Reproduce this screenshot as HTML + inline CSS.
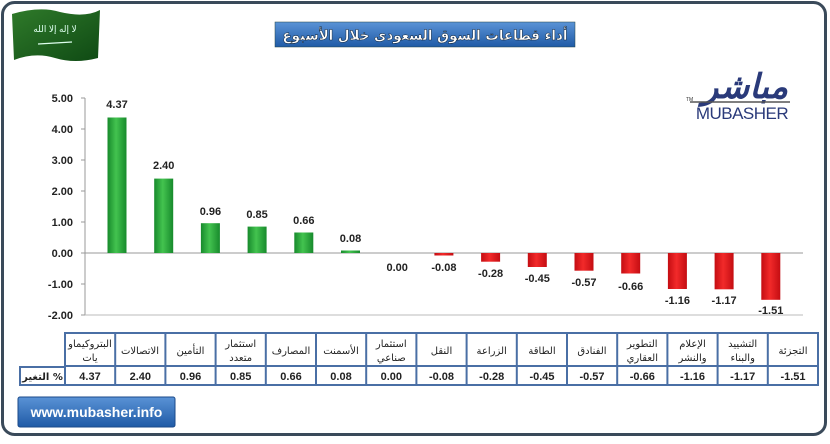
<!DOCTYPE html>
<html><head><meta charset="utf-8"><style>
body{margin:0;width:830px;height:439px;background:#fff;overflow:hidden;font-family:"Liberation Sans","Noto Sans CJK SC",sans-serif}
</style></head><body>
<svg width="830" height="439" xmlns="http://www.w3.org/2000/svg" font-family="Liberation Sans, DejaVu Sans, sans-serif">
<defs>
<linearGradient id="g" x1="0" x2="1"><stop offset="0" stop-color="#178a2c"/><stop offset=".45" stop-color="#43c34f"/><stop offset="1" stop-color="#178a2c"/></linearGradient>
<linearGradient id="r" x1="0" x2="1"><stop offset="0" stop-color="#c40d12"/><stop offset=".45" stop-color="#f22a2a"/><stop offset="1" stop-color="#c40d12"/></linearGradient>
<linearGradient id="b" x1="0" y1="0" x2="0" y2="1"><stop offset="0" stop-color="#5a93d6"/><stop offset="1" stop-color="#1f5aa6"/></linearGradient>
<linearGradient id="f" x1="0" y1="0" x2="1" y2="1"><stop offset="0" stop-color="#2f7a2a"/><stop offset="1" stop-color="#0f4a14"/></linearGradient>
</defs>
<rect x="2.5" y="2.5" width="823" height="432" rx="12" fill="#fff" stroke="#3a4a5a" stroke-width="3"/>
<path d="M12 14 Q40 6 60 12 Q85 18 100 10 L98 58 Q75 64 55 58 Q35 52 14 60 Z" fill="url(#f)"/>
<text x="55" y="32" font-size="9" fill="#dfe" text-anchor="middle">لا إله إلا الله</text>
<line x1="38" y1="44" x2="72" y2="42" stroke="#dfe" stroke-width="1.2"/>
<rect x="275" y="22" width="300" height="25" fill="url(#b)" stroke="#244" stroke-width=".5"/>
<text x="425" y="40" font-size="14" font-weight="bold" fill="#fff" stroke="#123" stroke-width=".5" text-anchor="middle" textLength="285" lengthAdjust="spacingAndGlyphs" font-family="DejaVu Sans, sans-serif">أداء قطاعات السوق السعودى خلال الأسبوع</text>
<text x="745" y="98" font-size="34" font-weight="bold" fill="#2a3a7a" text-anchor="middle" font-style="italic" font-family="DejaVu Sans, sans-serif">مباشر</text>
<line x1="690" y1="102" x2="790" y2="102" stroke="#555" stroke-width="1.5"/>
<text x="742" y="119" font-size="17" fill="#2a3a7a" text-anchor="middle" letter-spacing="-.5">MUBASHER</text>
<text x="686" y="101" font-size="5" fill="#333">TM</text>
<g font-size="11" font-weight="bold" fill="#222" text-anchor="end">
<text x="73" y="102">5.00</text><text x="73" y="133">4.00</text><text x="73" y="164">3.00</text><text x="73" y="195">2.00</text><text x="73" y="226">1.00</text><text x="73" y="257">0.00</text><text x="73" y="288">-1.00</text><text x="73" y="319">-2.00</text>
</g>
<g stroke="#999" stroke-width="1">
<line x1="85" y1="98" x2="85" y2="315"/>
<line x1="81" y1="98" x2="85" y2="98"/><line x1="81" y1="129" x2="85" y2="129"/><line x1="81" y1="160" x2="85" y2="160"/><line x1="81" y1="191" x2="85" y2="191"/><line x1="81" y1="222" x2="85" y2="222"/><line x1="81" y1="253" x2="85" y2="253"/><line x1="81" y1="284" x2="85" y2="284"/><line x1="81" y1="315" x2="85" y2="315"/>
<line x1="85" y1="253" x2="803" y2="253"/>
<line x1="85" y1="315" x2="803" y2="315" stroke="#bbb"/>
</g>
<g font-size="11" font-weight="bold" fill="#222" text-anchor="middle">
<rect x="107.5" y="117.5" width="19" height="135.5" fill="url(#g)"/><text x="117" y="108">4.37</text>
<rect x="154.2" y="178.6" width="19" height="74.4" fill="url(#g)"/><text x="163.7" y="169">2.40</text>
<rect x="200.9" y="223.2" width="19" height="29.8" fill="url(#g)"/><text x="210.4" y="215">0.96</text>
<rect x="247.6" y="226.6" width="19" height="26.4" fill="url(#g)"/><text x="257.1" y="218">0.85</text>
<rect x="294.3" y="232.5" width="19" height="20.5" fill="url(#g)"/><text x="303.8" y="224">0.66</text>
<rect x="341" y="250.5" width="19" height="2.5" fill="url(#g)"/><text x="350.5" y="242">0.08</text>
<text x="397.2" y="271">0.00</text>
<rect x="434.4" y="253" width="19" height="2.5" fill="url(#r)"/><text x="443.9" y="271">-0.08</text>
<rect x="481.1" y="253" width="19" height="8.7" fill="url(#r)"/><text x="490.6" y="277">-0.28</text>
<rect x="527.8" y="253" width="19" height="14" fill="url(#r)"/><text x="537.3" y="282">-0.45</text>
<rect x="574.5" y="253" width="19" height="17.7" fill="url(#r)"/><text x="584" y="286">-0.57</text>
<rect x="621.2" y="253" width="19" height="20.5" fill="url(#r)"/><text x="630.7" y="290">-0.66</text>
<rect x="667.9" y="253" width="19" height="36" fill="url(#r)"/><text x="677.4" y="304">-1.16</text>
<rect x="714.6" y="253" width="19" height="36.3" fill="url(#r)"/><text x="724.1" y="304">-1.17</text>
<rect x="761.3" y="253" width="19" height="46.8" fill="url(#r)"/><text x="770.8" y="314">-1.51</text>
</g>
<g stroke="#4a6fa5" stroke-width="2" fill="none">
<rect x="65" y="333" width="753" height="52"/>
<rect x="20" y="367" width="45" height="18"/>
<line x1="65" y1="366" x2="818" y2="366"/>
<line x1="115.2" y1="333" x2="115.2" y2="385"/><line x1="165.4" y1="333" x2="165.4" y2="385"/><line x1="215.6" y1="333" x2="215.6" y2="385"/><line x1="265.8" y1="333" x2="265.8" y2="385"/><line x1="316" y1="333" x2="316" y2="385"/><line x1="366.2" y1="333" x2="366.2" y2="385"/><line x1="416.4" y1="333" x2="416.4" y2="385"/><line x1="466.6" y1="333" x2="466.6" y2="385"/><line x1="516.8" y1="333" x2="516.8" y2="385"/><line x1="567" y1="333" x2="567" y2="385"/><line x1="617.2" y1="333" x2="617.2" y2="385"/><line x1="667.4" y1="333" x2="667.4" y2="385"/><line x1="717.6" y1="333" x2="717.6" y2="385"/><line x1="767.8" y1="333" x2="767.8" y2="385"/>
</g>
<g font-size="10" fill="#222" text-anchor="middle" font-family="DejaVu Sans, sans-serif">
<text x="90" y="347">البتروكيماو</text><text x="90" y="361">يات</text>
<text x="140" y="354">الاتصالات</text>
<text x="190.5" y="354">التأمين</text>
<text x="240.7" y="347">استثمار</text><text x="240.7" y="361">متعدد</text>
<text x="291" y="354">المصارف</text>
<text x="341" y="354">الأسمنت</text>
<text x="391.3" y="347">استثمار</text><text x="391.3" y="361">صناعي</text>
<text x="441.5" y="354">النقل</text>
<text x="491.7" y="354">الزراعة</text>
<text x="542" y="354">الطاقة</text>
<text x="592" y="354">الفنادق</text>
<text x="642.3" y="347">التطوير</text><text x="642.3" y="361">العقاري</text>
<text x="692.5" y="347">الإعلام</text><text x="692.5" y="361">والنشر</text>
<text x="742.7" y="347">التشييد</text><text x="742.7" y="361">والبناء</text>
<text x="793" y="354">التجزئة</text>
<text x="42.5" y="380" font-weight="bold">التغير %</text>
</g>
<g font-size="11" font-weight="bold" fill="#222" text-anchor="middle">
<text x="90" y="380">4.37</text><text x="140.3" y="380">2.40</text><text x="190.5" y="380">0.96</text><text x="240.7" y="380">0.85</text><text x="291" y="380">0.66</text><text x="341" y="380">0.08</text><text x="391.3" y="380">0.00</text><text x="441.5" y="380">-0.08</text><text x="491.7" y="380">-0.28</text><text x="542" y="380">-0.45</text><text x="592" y="380">-0.57</text><text x="642.3" y="380">-0.66</text><text x="692.5" y="380">-1.16</text><text x="742.7" y="380">-1.17</text><text x="793" y="380">-1.51</text>
</g>
<rect x="18" y="397" width="157" height="30" rx="2" fill="url(#b)" stroke="#1b4a8a"/>
<text x="96.5" y="417" font-size="14" font-weight="bold" fill="#fff" text-anchor="middle">www.mubasher.info</text>
</svg>
</body></html>
